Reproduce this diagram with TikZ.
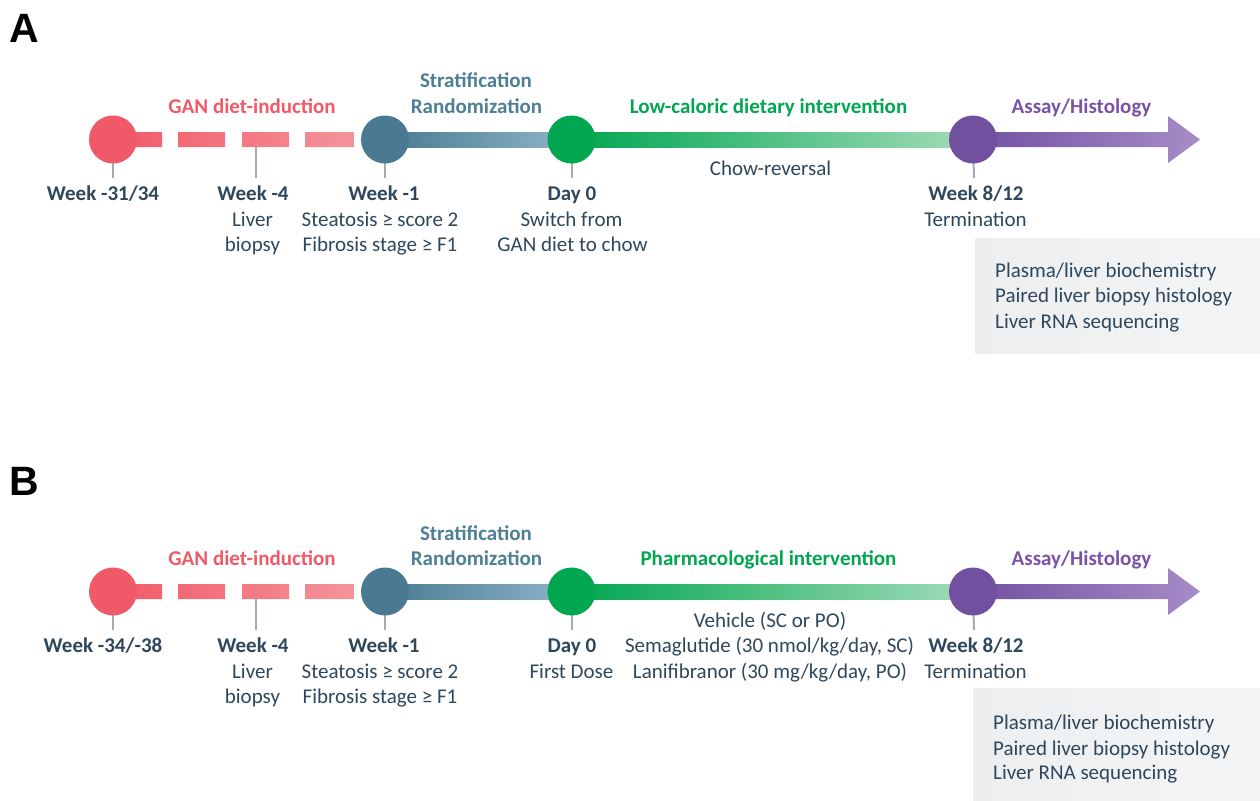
\documentclass[tikz,border=0pt]{standalone}
\usepackage{fontspec}
\setmainfont{Carlito}
\newfontfamily\arialfont{Liberation Sans}
\usetikzlibrary{calc}
\definecolor{txt}{HTML}{2F475C}
\definecolor{tickgray}{HTML}{A3ABB3}
\definecolor{redA}{HTML}{F05A68}
\definecolor{redB}{HTML}{F5939A}
\definecolor{blueA}{HTML}{4A7A91}
\definecolor{blueB}{HTML}{8DB5C8}
\definecolor{blueT}{HTML}{4E7F94}
\definecolor{greenA}{HTML}{00A650}
\definecolor{greenB}{HTML}{A3DCB9}
\definecolor{greenT}{HTML}{00A651}
\definecolor{purA}{HTML}{7250A0}
\definecolor{purB}{HTML}{A68DC8}
\definecolor{purT}{HTML}{7A52A6}
\definecolor{boxA}{HTML}{ECEEF0}
\definecolor{boxB}{HTML}{F4F5F6}
\tikzset{
  lbl/.style={font=\fontsize{21}{25.5}\selectfont, text=txt, anchor=base, inner sep=0pt},
  blbl/.style={lbl, font=\fontsize{21}{25.5}\selectfont\bfseries},
  boxtxt/.style={lbl, anchor=base west},
  ticksty/.style={draw=tickgray, line width=2pt},
  dot/.style={circle, minimum size=48pt, inner sep=0pt, draw=none},
  panellbl/.style={font=\arialfont\bfseries\fontsize{41}{41}\selectfont, anchor=base west, inner sep=0pt},
}
\newcommand\tlpanel[6]{%
% #1 prefix, #2 shift, #3 first week, #4 intervention title, #5 letter, #6 day0 text
\begin{scope}[yshift=-#2pt]
  \node[panellbl] (#1letter) at (9,43) {#5};
  \coordinate (#1p1) at (113,139.5);
  \coordinate (#1p2) at (256,139.5);
  \coordinate (#1p3) at (385,139.5);
  \coordinate (#1p4) at (571.5,139.5);
  \coordinate (#1p5) at (973,139.5);
  \coordinate (#1tip) at (1200,139.5);
  % red dashed segment
  \begin{scope}
    \clip (113,132) rectangle (162,147) (178,132) rectangle (225,147)
          (242,132) rectangle (289,147) (305,132) rectangle (354,147);
    \shade[left color=redA, right color=redB] (113,132) rectangle (354,147);
  \end{scope}
  % blue bar
  \shade[left color=blueA, right color=blueB] ($(#1p3)+(0,-7.5)$) rectangle ($(#1p4)+(0,7.5)$);
  % green bar
  \shade[left color=greenA, right color=greenB] ($(#1p4)+(0,-7.5)$) rectangle ($(#1p5)+(0,7.5)$);
  % purple arrow
  \shade[left color=purA, right color=purB]
    ($(#1p5)+(0,-7.5)$) -- ($(#1tip)+(-32,-7.5)$) -- ($(#1tip)+(-32,-23.5)$) -- (#1tip)
    -- ($(#1tip)+(-32,23.5)$) -- ($(#1tip)+(-32,7.5)$) -- ($(#1p5)+(0,7.5)$) -- cycle;
  % ticks
  \coordinate (#1t1) at (113,178);
  \coordinate (#1t2) at (256,178);
  \coordinate (#1t3) at (385,178);
  \coordinate (#1t4) at (571.5,178);
  \coordinate (#1t5) at (974,178);
  \coordinate (#1b2) at (256,147);
  \draw[ticksty] (#1p1) -- (#1t1);
  \draw[ticksty] (#1b2) -- (#1t2);
  \draw[ticksty] (#1p3) -- (#1t3);
  \draw[ticksty] (#1p4) -- (#1t4);
  \draw[ticksty] (#1p5) -- (#1t5);
  % circles
  \node[dot, fill=redA] (#1c1) at (#1p1) {};
  \node[dot, fill=blueA] (#1c3) at (#1p3) {};
  \node[dot, fill=greenA] (#1c4) at (#1p4) {};
  \node[dot, fill=purA] (#1c5) at (#1p5) {};
  % titles
  \node[blbl, text=redA] (#1ti1) at (252,113) {GAN diet-induction};
  \node[blbl, text=blueT] (#1ti2) at (476,88) {Stratification};
  \node[blbl, text=blueT] (#1ti3) at (476.5,113) {Randomization};
  \node[blbl, text=greenT] (#1ti4) at (768.5,113) {#4};
  \node[blbl, text=purT] (#1ti5) at (1081.5,113) {Assay/Histology};
  % milestone labels
  \node[blbl] (#1w1) at (103,200) {#3};
  \node[blbl] (#1w2) at (253,200) {Week -4};
  \node[lbl] (#1w2a) at (252.5,226) {Liver};
  \node[lbl] (#1w2b) at (252.5,251.5) {biopsy};
  \node[blbl] (#1w3) at (384,200) {Week -1};
  \node[lbl] (#1w3a) at (380,226) {Steatosis ≥ score 2};
  \node[lbl] (#1w3b) at (380,251.5) {Fibrosis stage ≥ F1};
  \node[blbl] (#1w4) at (572,200) {Day 0};
  \node[blbl] (#1w5) at (976,200) {Week 8/12};
  \node[lbl] (#1w5a) at (975.5,226) {Termination};
  #6
\end{scope}}

\begin{document}
\begin{tikzpicture}[x=1pt, y=-1pt]
  \useasboundingbox (0,0) rectangle (1260,800);
  \fill[white] (0,0) rectangle (1260,800);
  % ---------- Panel A ----------
  \tlpanel{a}{0}{Week -31/34}{Low-caloric dietary intervention}{A}{%
    \node[lbl] (aw4a) at (571.5,226) {Switch from};
    \node[lbl] (aw4b) at (572.5,251.5) {GAN diet to chow};
    \node[lbl] (achow) at (770.5,175) {Chow-reversal};
    \shade[left color=boxA, right color=boxB] (975,238) rectangle (1260,353);
    \node[boxtxt] (abox1) at (995,277) {Plasma/liver biochemistry};
    \node[boxtxt] (abox2) at (995,302.5) {Paired liver biopsy histology};
    \node[boxtxt] (abox3) at (995,328) {Liver RNA sequencing};
  }
  % ---------- Panel B ----------
  \tlpanel{b}{452}{Week -34/-38}{Pharmacological intervention}{B}{%
    \node[lbl] (bw4a) at (571.5,226) {First Dose};
    \node[lbl] (bv1) at (770,175) {Vehicle (SC or PO)};
    \node[lbl] (bv2) at (769.5,200.5) {Semaglutide (30 nmol/kg/day, SC)};
    \node[lbl] (bv3) at (770,226) {Lanifibranor (30 mg/kg/day, PO)};
    \shade[left color=boxA, right color=boxB] (973,236) rectangle (1260,348);
    \node[boxtxt] (bbox1) at (993,277.5) {Plasma/liver biochemistry};
    \node[boxtxt] (bbox2) at (993,303) {Paired liver biopsy histology};
    \node[boxtxt] (bbox3) at (993,327.5) {Liver RNA sequencing};
  }
\end{tikzpicture}
\end{document}
